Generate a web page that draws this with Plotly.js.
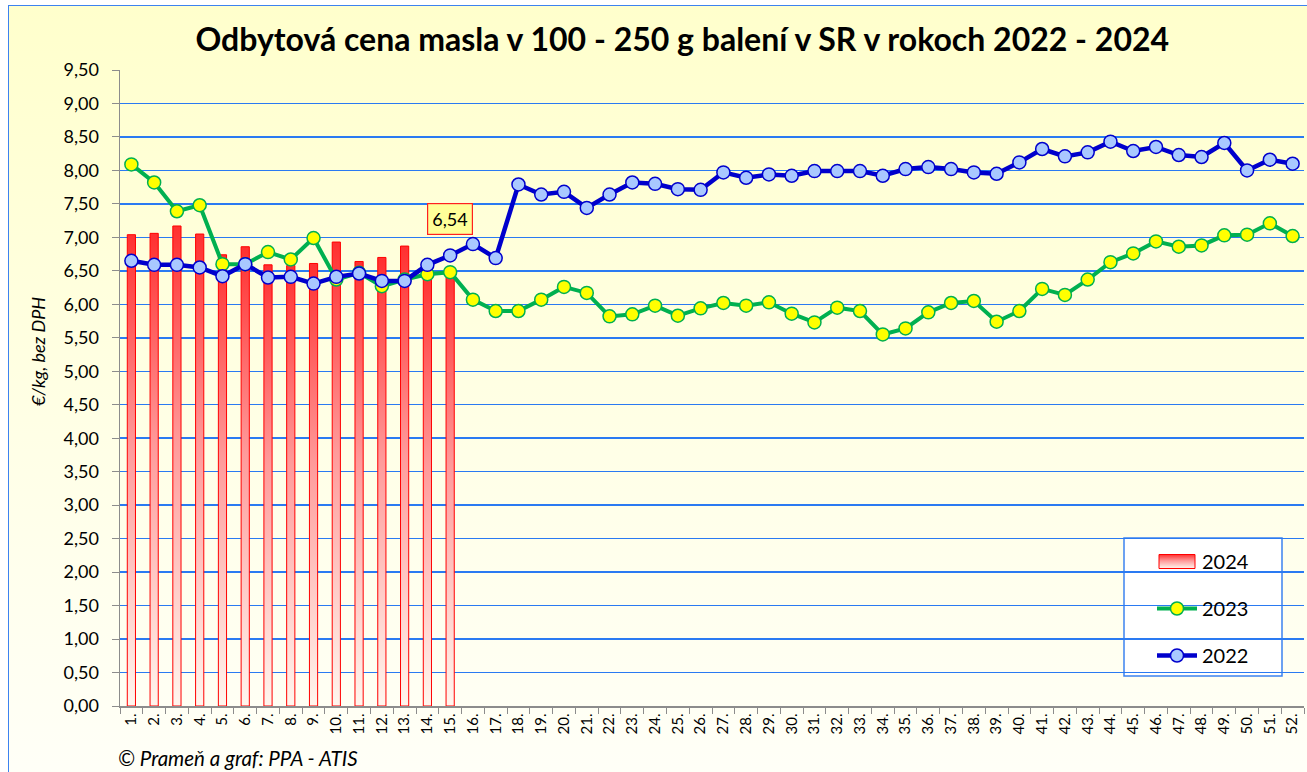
<!DOCTYPE html>
<html>
<head>
<meta charset="utf-8">
<script src="https://cdn.plot.ly/plotly-3.0.1.min.js"></script>
<style>
  html, body { margin: 0; padding: 0; background: #ffffff; }
  #frame { position: absolute; left: 8px; top: 5px; width: 1310px; height: 780px;
           border: 1.5px solid #3C82F0;
           background: linear-gradient(to bottom, #FFFFCC 0%, #FFFFE6 55%, #FFFFF8 100%); }
  #chart { position: absolute; left: 0; top: 0; width: 1307px; height: 772px; }
</style>
</head>
<body>
<div id="frame"></div>
<div id="chart"></div>
<script>
// ---- data ----
const weeks = ['1.','2.','3.','4.','5.','6.','7.','8.','9.','10.','11.','12.','13.','14.','15.','16.','17.','18.','19.','20.',
  '21.','22.','23.','24.','25.','26.','27.','28.','29.','30.','31.','32.','33.','34.','35.','36.','37.','38.','39.','40.',
  '41.','42.','43.','44.','45.','46.','47.','48.','49.','50.','51.','52.'];

const price2024 = [7.04, 7.06, 7.17, 7.05, 6.74, 6.86, 6.59, 6.58, 6.61, 6.93, 6.64, 6.70, 6.87, 6.50, 6.54];

const price2023 = [8.09, 7.82, 7.39, 7.48, 6.60, 6.60, 6.78, 6.67, 6.99, 6.37,
  6.47, 6.27, 6.37, 6.45, 6.48, 6.07, 5.90, 5.90, 6.07, 6.26,
  6.17, 5.82, 5.85, 5.98, 5.83, 5.94, 6.02, 5.98, 6.03, 5.86,
  5.73, 5.95, 5.90, 5.55, 5.64, 5.88, 6.02, 6.05, 5.74, 5.90,
  6.23, 6.14, 6.37, 6.63, 6.76, 6.94, 6.86, 6.88, 7.03, 7.04,
  7.21, 7.02];

const price2022 = [6.65, 6.59, 6.59, 6.55, 6.42, 6.60, 6.40, 6.41, 6.31, 6.41,
  6.46, 6.35, 6.35, 6.59, 6.73, 6.90, 6.69, 7.79, 7.64, 7.68,
  7.44, 7.64, 7.82, 7.80, 7.72, 7.71, 7.97, 7.89, 7.94, 7.92,
  7.99, 7.99, 7.99, 7.92, 8.02, 8.05, 8.02, 7.97, 7.95, 8.12,
  8.32, 8.21, 8.27, 8.43, 8.29, 8.35, 8.23, 8.20, 8.41, 8.00,
  8.16, 8.10];

const seriesNames = ['2024', '2023', '2022'];
const titleText = 'Odbytová cena masla v 100 - 250 g balení v SR v rokoch 2022 - 2024';
const yTitleText = '€/kg, bez DPH';
const sourceText = '© Prameň a graf: PPA - ATIS';

// ---- chart ----
const FONT = 'Lato, "Open Sans", sans-serif';
const lastIdx = price2024.length - 1;

const traces = [
  {
    type: 'bar', name: seriesNames[0], x: weeks.slice(0, price2024.length), y: price2024,
    width: 0.36,
    marker: { color: '#FF6060', line: { color: '#FF0000', width: 1 } },
    legendgroup: 'a', hoverinfo: 'skip'
  },
  {
    type: 'scatter', mode: 'lines+markers', name: seriesNames[1], x: weeks, y: price2023,
    line: { color: '#00B050', width: 4 },
    marker: { color: '#FFFF00', size: 13, line: { color: '#00B050', width: 1.5 } },
    legendgroup: 'b', hoverinfo: 'skip'
  },
  {
    type: 'scatter', mode: 'lines+markers', name: seriesNames[2], x: weeks, y: price2022,
    line: { color: '#0000CC', width: 4.5 },
    marker: { color: '#A9C8FF', size: 13, line: { color: '#0000CC', width: 1.5 } },
    legendgroup: 'c', hoverinfo: 'skip'
  }
];

const layout = {
  width: 1307, height: 772,
  margin: { l: 120, r: 3, t: 70, b: 66 },
  paper_bgcolor: 'rgba(0,0,0,0)', plot_bgcolor: 'rgba(0,0,0,0)',
  separators: ', ',
  font: { family: FONT, color: '#000000', size: 17 },
  title: {
    text: '<b>' + titleText + '</b>',
    font: { family: FONT, size: 32, color: '#000000' },
    x: 0.522, xref: 'container', xanchor: 'center',
    y: 1 - 40 / 772, yref: 'container', yanchor: 'middle'
  },
  xaxis: {
    type: 'category', range: [-0.5, weeks.length - 0.5],
    showgrid: false, showline: true, linecolor: '#8C8C8C', linewidth: 1.5,
    ticks: 'outside', tickson: 'boundaries', ticklen: 6, tickcolor: '#8C8C8C',
    tickangle: -90, tickfont: { family: FONT, size: 15, color: '#000000' },
    fixedrange: true
  },
  yaxis: {
    range: [0, 9.5], dtick: 0.5, tick0: 0, tickformat: '.2f',
    showgrid: true, gridcolor: '#2A7AF2', gridwidth: 1.5,
    showline: true, linecolor: '#8C8C8C', linewidth: 1.5,
    ticks: 'outside', ticklen: 7, tickcolor: '#8C8C8C', ticklabelstandoff: 9,
    tickfont: { family: FONT, size: 18, color: '#000000' },
    zeroline: false, fixedrange: true
  },
  bargap: 0,
  showlegend: true,
  legend: {
    x: (1152 - 120) / 1184, xanchor: 'left',
    y: (706 - 542) / 636, yanchor: 'top',
    bgcolor: 'rgba(0,0,0,0)', borderwidth: 0,
    traceorder: 'grouped', tracegroupgap: 18,
    font: { family: FONT, size: 20, color: '#000000' },
    itemwidth: 40
  },
  shapes: [
    {
      type: 'rect', xref: 'paper', yref: 'paper', layer: 'between',
      x0: (1124 - 120) / 1184, x1: (1282 - 120) / 1184,
      y0: (706 - 676) / 636, y1: (706 - 538) / 636,
      fillcolor: '#FFFFFF', line: { color: '#3C82F0', width: 1.5 }
    }
  ],
  annotations: [
    {
      x: lastIdx, y: price2024[lastIdx], xref: 'x', yref: 'y',
      text: price2024[lastIdx].toFixed(2).replace('.', ','),
      showarrow: false, yshift: 49,
      bgcolor: '#FFFF99', bordercolor: '#FF2020', borderwidth: 1.2, borderpad: 4,
      font: { family: FONT, size: 18, color: '#000000' }
    },
    {
      text: '<i>' + yTitleText + '</i>', textangle: -90,
      xref: 'paper', yref: 'paper', x: (38 - 120) / 1184, y: (706 - 352) / 636,
      xanchor: 'center', yanchor: 'middle', showarrow: false,
      font: { family: FONT, size: 18, color: '#000000' }
    },
    {
      text: '<i>' + sourceText + '</i>',
      xref: 'paper', yref: 'paper', x: (116 - 120) / 1184, y: (706 - 758) / 636,
      xanchor: 'left', yanchor: 'middle', showarrow: false,
      font: { family: FONT, size: 20.5, color: '#000000' }
    }
  ]
};

Plotly.newPlot('chart', traces, layout, { displayModeBar: false, staticPlot: true, responsive: false })
  .then(function (gd) {
    const svg = gd.querySelector('svg.main-svg');
    const NS = 'http://www.w3.org/2000/svg';
    let defs = svg.querySelector('defs');
    if (!defs) { defs = document.createElementNS(NS, 'defs'); svg.insertBefore(defs, svg.firstChild); }
    const g = document.createElementNS(NS, 'linearGradient');
    g.setAttribute('id', 'barGrad');
    g.setAttribute('x1', '0'); g.setAttribute('y1', '0');
    g.setAttribute('x2', '0'); g.setAttribute('y2', '1');
    [['0', '#FF3030'], ['0.45', '#FF9A9A'], ['1', '#FFF6EE']].forEach(function (s) {
      const st = document.createElementNS(NS, 'stop');
      st.setAttribute('offset', s[0]); st.setAttribute('stop-color', s[1]);
      g.appendChild(st);
    });
    defs.appendChild(g);
    gd.querySelectorAll('.barlayer .trace.bars .point path').forEach(function (p) {
      p.style.fill = 'url(#barGrad)';
    });
    const firstLeg = gd.querySelectorAll('.legend .traces')[0];
    if (firstLeg) {
      firstLeg.querySelectorAll('.legendpoints path').forEach(function (p) {
        p.setAttribute('d', 'M18,7H-18V-7H18Z');
        p.style.fill = 'url(#barGrad)';
      });
    }
  });
</script>
</body>
</html>
